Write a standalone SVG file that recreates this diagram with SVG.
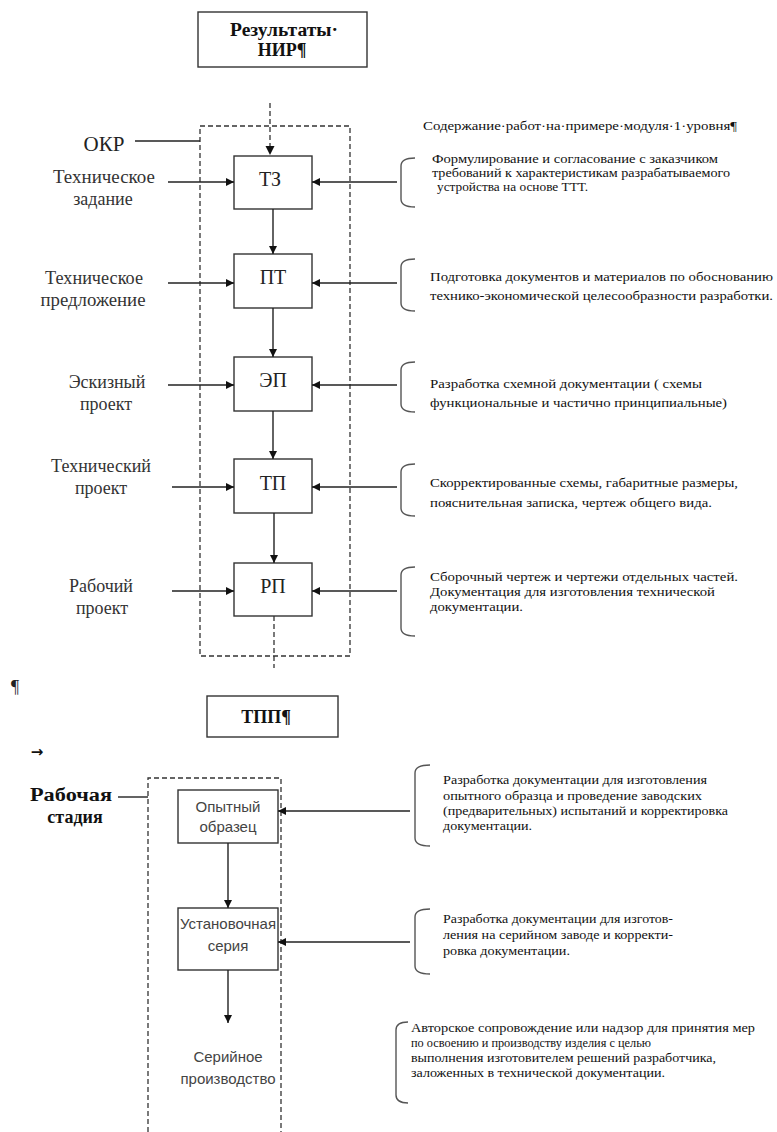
<svg xmlns="http://www.w3.org/2000/svg" width="777" height="1132" viewBox="0 0 777 1132">
<defs>
<marker id="ah" viewBox="0 0 10 10" refX="10" refY="5" markerWidth="9" markerHeight="8" markerUnits="userSpaceOnUse" orient="auto"><path d="M0,0 L10,5 L0,10 z" fill="#111"/></marker>
</defs>
<style>
.box{fill:#fff;stroke:#333;stroke-width:1.4}
.dash{fill:none;stroke:#333;stroke-width:1.3;stroke-dasharray:5,3}
.ln{fill:none;stroke:#222;stroke-width:1.4}
.arr{fill:none;stroke:#222;stroke-width:1.4;marker-end:url(#ah)}
.br{fill:none;stroke:#555;stroke-width:1.4}
.serif{font-family:"Liberation Serif","Times New Roman","DejaVu Serif",serif}
.lbl{font-family:"Liberation Serif","Times New Roman","DejaVu Serif",serif;font-size:18px;fill:#333;text-anchor:middle}
.bx{font-family:"Liberation Serif","Times New Roman","DejaVu Serif",serif;font-size:20px;fill:#222;text-anchor:middle}
.hd{font-family:"Liberation Serif","Times New Roman","DejaVu Serif",serif;font-size:18px;font-weight:bold;fill:#111;text-anchor:middle}
.rt{font-family:"Liberation Serif","Times New Roman","DejaVu Serif",serif;font-size:13.5px;fill:#111}
.sn{font-family:"Liberation Sans",Arial,sans-serif;font-size:15px;fill:#444;text-anchor:middle}
</style>

<g id="nir">
<rect class="box" x="198" y="12" width="169" height="55"/>
<text class="hd" x="284" y="36" font-size="17" textLength="108" lengthAdjust="spacingAndGlyphs">Результаты·</text>
<text class="hd" x="282" y="56" font-size="17">НИР¶</text>
</g>

<g id="okr-frame">
<rect class="dash" x="200" y="126" width="150" height="530"/>
<text class="serif" x="104" y="151" font-size="21" fill="#222" text-anchor="middle">ОКР</text>
</g>

<text class="rt" x="423" y="130" font-size="14" textLength="314" lengthAdjust="spacingAndGlyphs">Содержание·работ·на·примере·модуля·1·уровня¶</text>

<g id="tz">
<rect class="box" x="234" y="156" width="78" height="53"/>
<text class="bx" x="270" y="186">ТЗ</text>
</g>
<g id="pt">
<rect class="box" x="234" y="254" width="78" height="54"/>
<text class="bx" x="273" y="284">ПТ</text>
</g>
<g id="ep">
<rect class="box" x="234" y="357" width="78" height="54"/>
<text class="bx" x="273" y="387">ЭП</text>
</g>
<g id="tp">
<rect class="box" x="234" y="459" width="78" height="54"/>
<text class="bx" x="273" y="490">ТП</text>
</g>
<g id="rp">
<rect class="box" x="234" y="563" width="78" height="53"/>
<text class="bx" x="273" y="593">РП</text>
</g>

<g id="labels-left">
<text class="lbl" x="104" y="183" textLength="102" lengthAdjust="spacingAndGlyphs">Техническое</text>
<text class="lbl" x="103" y="205">задание</text>
<text class="lbl" x="94" y="284" textLength="98" lengthAdjust="spacingAndGlyphs">Техническое</text>
<text class="lbl" x="93" y="306" textLength="105" lengthAdjust="spacingAndGlyphs">предложение</text>
<text class="lbl" x="107" y="388">Эскизный</text>
<text class="lbl" x="106" y="410">проект</text>
<text class="lbl" x="101" y="472">Технический</text>
<text class="lbl" x="101" y="494">проект</text>
<text class="lbl" x="101" y="592">Рабочий</text>
<text class="lbl" x="102" y="614">проект</text>
</g>

<g id="notes-top">
<text class="rt" x="432" y="163" textLength="286" lengthAdjust="spacingAndGlyphs">Формулирование и согласование с заказчиком</text>
<text class="rt" x="432" y="177" textLength="298" lengthAdjust="spacingAndGlyphs">требований к характеристикам разрабатываемого</text>
<text class="rt" x="437" y="191" textLength="151" lengthAdjust="spacingAndGlyphs">устройства на основе ТТТ.</text>
<text class="rt" x="430" y="281" textLength="343" lengthAdjust="spacingAndGlyphs">Подготовка документов и материалов по обоснованию</text>
<text class="rt" x="430" y="300" textLength="343" lengthAdjust="spacingAndGlyphs">технико-экономической целесообразности разработки.</text>
<text class="rt" x="430" y="388" textLength="272" lengthAdjust="spacingAndGlyphs">Разработка схемной документации ( схемы</text>
<text class="rt" x="430" y="407" textLength="297" lengthAdjust="spacingAndGlyphs">функциональные и частично принципиальные)</text>
<text class="rt" x="430" y="487" textLength="308" lengthAdjust="spacingAndGlyphs">Скорректированные схемы, габаритные размеры,</text>
<text class="rt" x="430" y="507" textLength="282" lengthAdjust="spacingAndGlyphs">пояснительная записка, чертеж общего вида.</text>
<text class="rt" x="430" y="581" textLength="308" lengthAdjust="spacingAndGlyphs">Сборочный чертеж и чертежи отдельных частей.</text>
<text class="rt" x="430" y="596" textLength="285" lengthAdjust="spacingAndGlyphs">Документация для изготовления технической</text>
<text class="rt" x="430" y="611" textLength="93" lengthAdjust="spacingAndGlyphs">документации.</text>
</g>

<g id="tpp">
<rect class="box" x="207" y="696" width="131" height="41"/>
<text class="hd" x="266" y="723" font-size="17">ТПП¶</text>
</g>
<text class="serif" x="15" y="693" font-size="18" fill="#222" text-anchor="middle">¶</text>
<text x="37" y="757" font-family="DejaVu Sans,sans-serif" font-size="15" font-weight="bold" fill="#111" text-anchor="middle">→</text>

<g id="work-frame">
<path class="dash" d="M148,1132 V778 H281 V1132"/>
<text class="hd" x="71" y="801" textLength="82" lengthAdjust="spacingAndGlyphs">Рабочая</text>
<text class="hd" x="75" y="823">стадия</text>
</g>

<g id="opyt">
<rect class="box" x="178" y="790" width="100" height="53"/>
<text class="sn" x="228" y="812">Опытный</text>
<text class="sn" x="228" y="832">образец</text>
</g>
<g id="ustan">
<rect class="box" x="178" y="908" width="100" height="62"/>
<text class="sn" x="228" y="929">Установочная</text>
<text class="sn" x="228" y="951">серия</text>
</g>
<g id="serial">
<text class="sn" x="228" y="1062">Серийное</text>
<text class="sn" x="228" y="1084">производство</text>
</g>

<g id="notes-bottom">
<text class="rt" x="443" y="784" textLength="264" lengthAdjust="spacingAndGlyphs">Разработка документации для изготовления</text>
<text class="rt" x="443" y="800" textLength="259" lengthAdjust="spacingAndGlyphs">опытного образца и  проведение заводских</text>
<text class="rt" x="443" y="815" textLength="285" lengthAdjust="spacingAndGlyphs">(предварительных) испытаний и корректировка</text>
<text class="rt" x="443" y="830" textLength="89" lengthAdjust="spacingAndGlyphs">документации.</text>
<text class="rt" x="443" y="923" textLength="230" lengthAdjust="spacingAndGlyphs">Разработка документации для изготов-</text>
<text class="rt" x="443" y="939" textLength="230" lengthAdjust="spacingAndGlyphs">ления на серийном заводе и корректи-</text>
<text class="rt" x="443" y="955" textLength="127" lengthAdjust="spacingAndGlyphs">ровка документации.</text>
<text class="rt" x="411" y="1032" textLength="344" lengthAdjust="spacingAndGlyphs">Авторское сопровождение или  надзор для  принятия мер</text>
<text class="rt" x="411" y="1047" textLength="240" lengthAdjust="spacingAndGlyphs">по освоению и производству изделия с целью</text>
<text class="rt" x="411" y="1062" textLength="305" lengthAdjust="spacingAndGlyphs">выполнения изготовителем решений разработчика,</text>
<text class="rt" x="411" y="1077" textLength="254" lengthAdjust="spacingAndGlyphs">заложенных в технической документации.</text>
</g>

<g id="connectors">
<line class="ln" x1="135" y1="141" x2="200" y2="141"/>
<line class="dash" x1="270" y1="103" x2="270" y2="146"/>
<path d="M265.5,146 L274.5,146 L270,155 z" fill="#111"/>
<line class="arr" x1="273" y1="209" x2="273" y2="254"/>
<line class="arr" x1="273" y1="308" x2="273" y2="357"/>
<line class="arr" x1="273" y1="411" x2="273" y2="459"/>
<line class="arr" x1="274" y1="513" x2="274" y2="563"/>
<line class="dash" x1="274" y1="616" x2="274" y2="668"/>

<line class="arr" x1="168" y1="182" x2="234" y2="182"/>
<line class="arr" x1="168" y1="283" x2="234" y2="283"/>
<line class="arr" x1="168" y1="385" x2="234" y2="385"/>
<line class="arr" x1="172" y1="487" x2="234" y2="487"/>
<line class="arr" x1="172" y1="591" x2="234" y2="591"/>

<line class="arr" x1="397" y1="182" x2="312" y2="182"/>
<line class="arr" x1="397" y1="283" x2="312" y2="283"/>
<line class="arr" x1="397" y1="385" x2="312" y2="385"/>
<line class="arr" x1="397" y1="487" x2="312" y2="487"/>
<line class="arr" x1="397" y1="591" x2="312" y2="591"/>

<path class="br" d="M415,158 Q401,158 401,166 V199 Q401,207 415,207"/>
<path class="br" d="M415,259 Q401,259 401,267 V303 Q401,311 415,311"/>
<path class="br" d="M415,362 Q401,362 401,370 V404 Q401,412 415,412"/>
<path class="br" d="M415,464 Q401,464 401,472 V508 Q401,516 415,516"/>
<path class="br" d="M415,567 Q401,567 401,575 V628 Q401,636 415,636"/>

<line class="ln" x1="118" y1="797" x2="148" y2="797"/>
<line class="arr" x1="228" y1="843" x2="228" y2="908"/>
<line class="arr" x1="228" y1="970" x2="228" y2="1023"/>
<line class="arr" x1="410" y1="811" x2="278" y2="811"/>
<line class="arr" x1="410" y1="942" x2="278" y2="942"/>
<path class="br" d="M430,765 Q415,765 415,773 V838 Q415,846 430,846"/>
<path class="br" d="M430,909 Q415,909 415,917 V966 Q415,974 430,974"/>
<path class="br" d="M408,1022 Q396,1022 396,1030 V1095 Q396,1103 408,1103"/>
</g>
</svg>
